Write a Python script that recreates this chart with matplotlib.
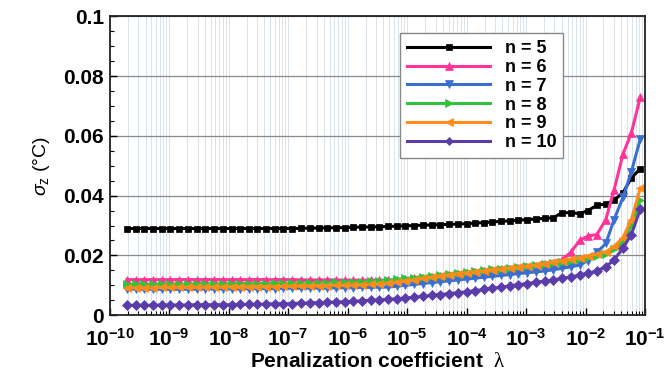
import matplotlib
matplotlib.use("Agg")
import matplotlib.pyplot as plt
import numpy as np
from matplotlib.ticker import LogLocator, MultipleLocator, FixedLocator

plt.rcParams['font.family'] = ['Liberation Sans', 'DejaVu Sans']
plt.rcParams['mathtext.fontset'] = 'custom'
plt.rcParams['mathtext.rm'] = 'Liberation Sans'
plt.rcParams['mathtext.bf'] = 'Liberation Sans:bold'
plt.rcParams['mathtext.it'] = 'Liberation Sans:italic'
plt.rcParams['mathtext.sf'] = 'Liberation Serif'

# log10 of penalization coefficient lambda
lambda_exp = [-9.71, -9.56, -9.42, -9.27, -9.12, -8.98, -8.83, -8.69, -8.54, -8.39,
              -8.25, -8.10, -7.95, -7.81, -7.66, -7.52, -7.37, -7.22, -7.08, -6.93,
              -6.78, -6.64, -6.49, -6.34, -6.20, -6.05, -5.91, -5.76, -5.61, -5.47,
              -5.32, -5.17, -5.03, -4.88, -4.74, -4.59, -4.44, -4.30, -4.15, -4.00,
              -3.86, -3.71, -3.57, -3.42, -3.27, -3.13, -2.98, -2.83, -2.69, -2.54,
              -2.40, -2.25, -2.10, -1.96, -1.81, -1.66, -1.52, -1.37, -1.23, -1.08]

sigma_n5 = [0.0290, 0.0290, 0.0290, 0.0290, 0.0290, 0.0290, 0.0290, 0.0290, 0.0290, 0.0290,
            0.0290, 0.0290, 0.0290, 0.0290, 0.0290, 0.0290, 0.0290, 0.0290, 0.0290, 0.0290,
            0.0291, 0.0291, 0.0292, 0.0292, 0.0293, 0.0293, 0.0294, 0.0295, 0.0295, 0.0296,
            0.0297, 0.0298, 0.0299, 0.0300, 0.0301, 0.0302, 0.0303, 0.0304, 0.0305, 0.0306,
            0.0308, 0.0310, 0.0312, 0.0314, 0.0316, 0.0318, 0.0320, 0.0322, 0.0324, 0.0326,
            0.0343, 0.0343, 0.0340, 0.0350, 0.0368, 0.0372, 0.0385, 0.0410, 0.0460, 0.0490]

sigma_n6 = [0.0119, 0.0119, 0.0119, 0.0119, 0.0119, 0.0119, 0.0119, 0.0119, 0.0119, 0.0119,
            0.0119, 0.0119, 0.0119, 0.0119, 0.0119, 0.0119, 0.0119, 0.0119, 0.0119, 0.0119,
            0.0118, 0.0118, 0.0118, 0.0118, 0.0118, 0.0117, 0.0117, 0.0117, 0.0117, 0.0117,
            0.0117, 0.0118, 0.0120, 0.0123, 0.0126, 0.0129, 0.0132, 0.0135, 0.0138, 0.0141,
            0.0144, 0.0147, 0.0150, 0.0153, 0.0156, 0.0159, 0.0162, 0.0166, 0.0170, 0.0176,
            0.0185, 0.0210, 0.0250, 0.0265, 0.0270, 0.0320, 0.0420, 0.0540, 0.0610, 0.0730]

sigma_n7 = [0.0087, 0.0087, 0.0087, 0.0087, 0.0087, 0.0087, 0.0087, 0.0087, 0.0087, 0.0088,
            0.0088, 0.0088, 0.0088, 0.0088, 0.0089, 0.0089, 0.0089, 0.0089, 0.0090, 0.0090,
            0.0090, 0.0091, 0.0091, 0.0091, 0.0092, 0.0092, 0.0092, 0.0093, 0.0093, 0.0094,
            0.0094, 0.0097, 0.0100, 0.0103, 0.0106, 0.0109, 0.0112, 0.0115, 0.0118, 0.0121,
            0.0124, 0.0127, 0.0130, 0.0133, 0.0136, 0.0139, 0.0142, 0.0145, 0.0148, 0.0152,
            0.0157, 0.0162, 0.0168, 0.0183, 0.0210, 0.0240, 0.0320, 0.0395, 0.0480, 0.0590]

sigma_n8 = [0.0103, 0.0103, 0.0103, 0.0103, 0.0104, 0.0104, 0.0104, 0.0104, 0.0105, 0.0105,
            0.0105, 0.0105, 0.0105, 0.0106, 0.0106, 0.0106, 0.0106, 0.0107, 0.0107, 0.0107,
            0.0108, 0.0108, 0.0109, 0.0109, 0.0110, 0.0110, 0.0111, 0.0112, 0.0114, 0.0115,
            0.0117, 0.0120, 0.0123, 0.0126, 0.0129, 0.0132, 0.0135, 0.0138, 0.0141, 0.0144,
            0.0147, 0.0150, 0.0153, 0.0156, 0.0159, 0.0162, 0.0165, 0.0168, 0.0171, 0.0175,
            0.0179, 0.0183, 0.0188, 0.0193, 0.0198, 0.0205, 0.0220, 0.0245, 0.0300, 0.0385]

sigma_n9 = [0.0092, 0.0092, 0.0092, 0.0092, 0.0093, 0.0093, 0.0093, 0.0093, 0.0094, 0.0094,
            0.0094, 0.0094, 0.0095, 0.0095, 0.0095, 0.0096, 0.0096, 0.0096, 0.0097, 0.0097,
            0.0098, 0.0098, 0.0099, 0.0099, 0.0100, 0.0100, 0.0101, 0.0102, 0.0103, 0.0105,
            0.0107, 0.0111, 0.0115, 0.0119, 0.0123, 0.0127, 0.0131, 0.0135, 0.0139, 0.0142,
            0.0145, 0.0148, 0.0151, 0.0154, 0.0157, 0.0160, 0.0164, 0.0168, 0.0172, 0.0177,
            0.0182, 0.0187, 0.0192, 0.0198, 0.0204, 0.0212, 0.0230, 0.0260, 0.0320, 0.0425]

sigma_n10 = [0.0033, 0.0033, 0.0033, 0.0033, 0.0034, 0.0034, 0.0034, 0.0034, 0.0035, 0.0035,
             0.0035, 0.0035, 0.0035, 0.0036, 0.0036, 0.0036, 0.0037, 0.0038, 0.0038, 0.0039,
             0.0040, 0.0041, 0.0042, 0.0043, 0.0044, 0.0045, 0.0046, 0.0048, 0.0050, 0.0051,
             0.0053, 0.0055, 0.0057, 0.0060, 0.0063, 0.0066, 0.0069, 0.0072, 0.0075, 0.0078,
             0.0082, 0.0086, 0.0090, 0.0094, 0.0098, 0.0102, 0.0106, 0.0110, 0.0114, 0.0118,
             0.0123, 0.0128, 0.0134, 0.0140, 0.0148, 0.0162, 0.0185, 0.0225, 0.0270, 0.0355]

series_labels = ["n = 5", "n = 6", "n = 7", "n = 8", "n = 9", "n = 10"]
x_tick_exps = [-10, -9, -8, -7, -6, -5, -4, -3, -2, -1]
y_ticks = [0, 0.02, 0.04, 0.06, 0.08, 0.1]
y_tick_labels = ["0", "0.02", "0.04", "0.06", "0.08", "0.1"]

colors = ["#000000", "#FF3399", "#3A6FD0", "#33C23A", "#FF8C1A", "#5B3DAA"]
markers = ["s", "^", "v", ">", "<", "D"]
msizes = [5, 6, 6, 6, 6, 5]

lam = [10.0 ** e for e in lambda_exp]
all_series = [sigma_n5, sigma_n6, sigma_n7, sigma_n8, sigma_n9, sigma_n10]

fig = plt.figure(figsize=(6.65, 3.73), dpi=100)
ax = fig.add_axes([0.165, 0.155, 0.805, 0.801])

for ys, c, m, ms, lab in zip(all_series, colors, markers, msizes, series_labels):
    ax.plot(lam, ys, color=c, marker=m, markersize=ms, linewidth=2.2, label=lab,
            markeredgewidth=0.5, markeredgecolor=c)

ax.set_xscale('log')
ax.set_xlim(1e-10, 1e-1)
ax.set_ylim(0, 0.1)

ax.xaxis.set_major_locator(FixedLocator([10.0 ** e for e in x_tick_exps]))
ax.xaxis.set_minor_locator(LogLocator(base=10, subs=np.arange(2, 10), numticks=100))
ax.set_xticklabels([r'$\mathbf{10^{%d}}$' % e for e in x_tick_exps])
ax.set_yticks(y_ticks)
ax.set_yticklabels(y_tick_labels)
ax.yaxis.set_minor_locator(MultipleLocator(0.005))

ax.grid(True, which='major', axis='y', color='#8a8a8a', linewidth=0.9)
ax.grid(True, which='both', axis='x', color='#d9e2ea', linewidth=0.7)
ax.set_axisbelow(True)

ax.tick_params(axis='both', which='major', direction='in', length=5, width=1.0,
               labelsize=15, pad=4)
ax.tick_params(axis='both', which='minor', direction='in', length=3, width=0.8)
ax.tick_params(axis='x', which='both', top=False)
for lbl in ax.get_yticklabels():
    lbl.set_fontweight('bold')
ax.tick_params(axis='x', which='major', pad=9)

for sp in ax.spines.values():
    sp.set_linewidth(1.3)
    sp.set_color('#222222')

ax.set_xlabel(r'Penalization coefficient  $\mathsf{\lambda}$', fontsize=15, fontweight='bold', labelpad=2)
ax.set_ylabel(r'$\sigma_{\mathrm{z}}$ (°C)', fontsize=14, labelpad=8)

leg = ax.legend(loc='upper left', bbox_to_anchor=(0.525, 0.975), fontsize=13,
                prop={'weight': 'bold', 'size': 13}, handlelength=4.6,
                handletextpad=0.8, labelspacing=0.1, borderpad=0.4,
                fancybox=False, framealpha=1, edgecolor='#888888', markerscale=0.9)
leg.get_frame().set_linewidth(1.0)

fig.savefig("out.png", dpi=100)
